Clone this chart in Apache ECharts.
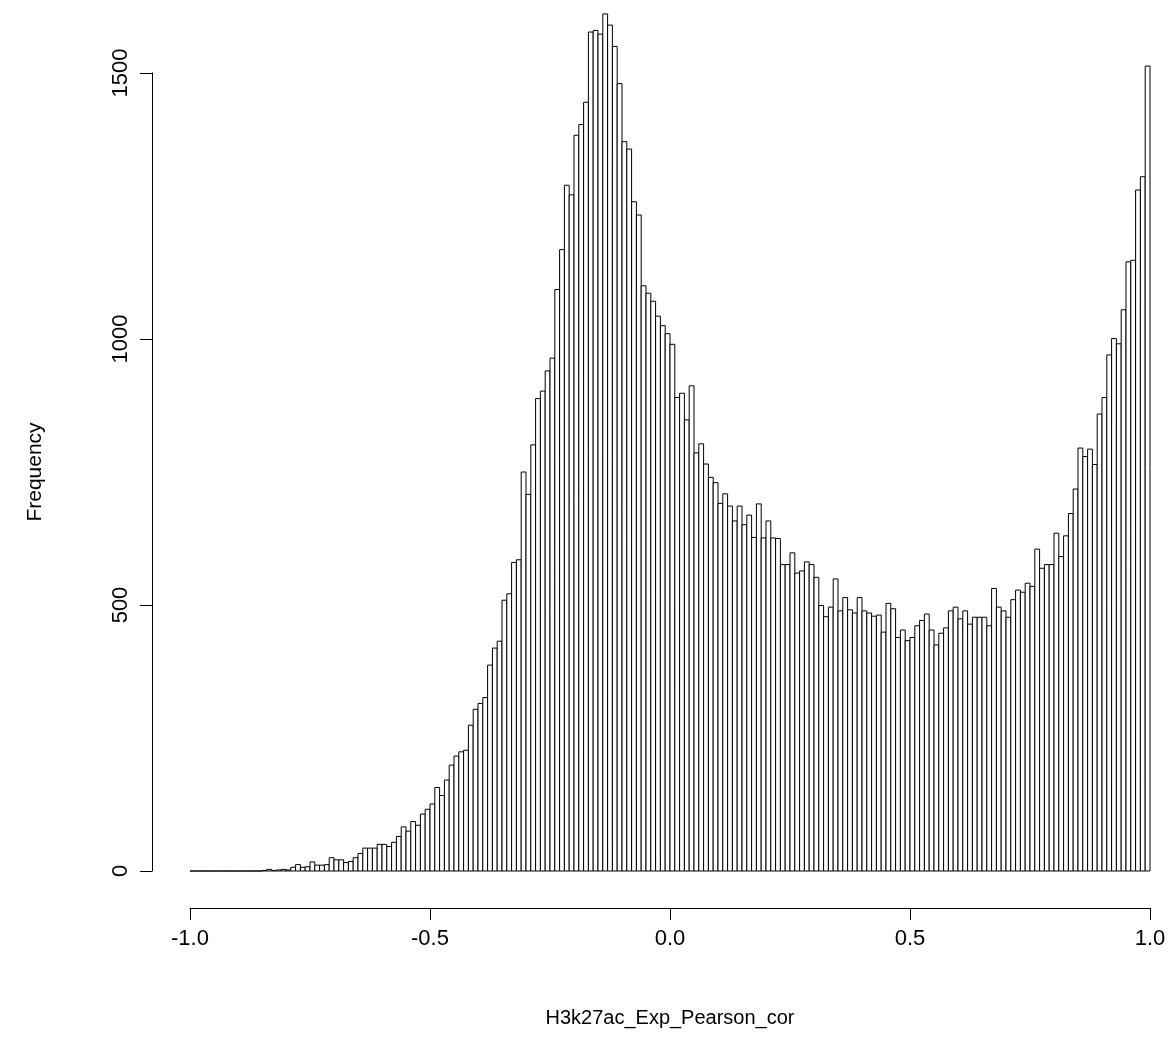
<!DOCTYPE html>
<html>
<head>
<meta charset="utf-8">
<script src="https://cdn.jsdelivr.net/npm/echarts@6/dist/echarts.min.js"></script>
<style>
html,body{margin:0;padding:0;background:#fff;}
#chart{width:1176px;height:1059px;}
</style>
</head>
<body>
<div id="chart"></div>
<script>
// Histogram of H3k27ac_Exp_Pearson_cor, bins of width 0.01 from -1 to 1
const binStart = -1.0;
const binWidth = 0.01;
const counts = [
  0,0,0,0,0,0,0,0,0,0,
  0,0,0,0,0,1,3,1,2,3,
  2,7,12,7,8,17,11,11,12,25,
  21,21,16,18,25,33,43,43,43,50,
  50,46,54,65,83,75,93,86,107,116,
  126,157,142,171,199,216,224,227,274,304,
  315,326,387,419,432,509,521,580,585,750,
  708,801,888,902,940,964,1093,1168,1289,1271,
  1383,1403,1445,1577,1580,1573,1611,1590,1550,1480,
  1371,1357,1258,1233,1100,1086,1071,1043,1025,1010,
  990,890,898,848,912,786,803,765,740,730,
  691,709,686,658,686,651,669,627,690,626,
  658,626,625,576,576,598,560,564,581,576,
  552,499,478,496,549,489,514,491,485,514,
  489,485,479,481,449,503,493,439,453,433,
  439,461,471,483,453,425,447,457,489,496,
  474,489,464,477,477,477,461,531,496,489,
  477,510,528,524,541,535,605,569,576,576,
  635,591,630,672,718,795,779,793,764,859,
  890,970,1001,991,1055,1145,1148,1280,1305,1513
];
const xTicks = [-1.0, -0.5, 0.0, 0.5, 1.0];
const yTicks = [0, 500, 1000, 1500];
const xTitle = 'H3k27ac_Exp_Pearson_cor';
const yTitle = 'Frequency';

const histData = counts.map((c, i) => {
  const x0 = +(binStart + i * binWidth).toFixed(2);
  const x1 = +(binStart + (i + 1) * binWidth).toFixed(2);
  return [x0, x1, c];
});

const FONT = 'Liberation Sans';
const chart = echarts.init(document.getElementById('chart'), null, {renderer: 'canvas'});
chart.setOption({
  animation: false,
  backgroundColor: '#ffffff',
  grid: {left: 190, right: 26, top: 73, bottom: 188, containLabel: false},
  xAxis: {
    type: 'value',
    min: xTicks[0], max: xTicks[xTicks.length - 1], interval: 0.5,
    offset: 37,
    name: xTitle, nameLocation: 'middle', nameGap: 100,
    nameTextStyle: {fontFamily: FONT, fontSize: 20, color: '#000'},
    axisLine: {show: true, onZero: false, lineStyle: {color: '#000', width: 1}},
    axisTick: {show: true, length: 12, lineStyle: {color: '#000', width: 1}},
    axisLabel: {fontFamily: FONT, fontSize: 22, color: '#000', margin: 20,
      formatter: v => v.toFixed(1)},
    splitLine: {show: false}
  },
  yAxis: {
    type: 'value',
    min: yTicks[0], max: yTicks[yTicks.length - 1], interval: 500,
    offset: 38,
    name: yTitle, nameLocation: 'middle', nameGap: 106, nameRotate: 90,
    nameTextStyle: {fontFamily: FONT, fontSize: 21, color: '#000'},
    axisLine: {show: true, onZero: false, lineStyle: {color: '#000', width: 1}},
    axisTick: {show: true, length: 12, lineStyle: {color: '#000', width: 1}},
    axisLabel: {fontFamily: FONT, fontSize: 22, color: '#000', margin: 20, rotate: 90,
      formatter: v => String(v)},
    splitLine: {show: false}
  },
  series: [{
    type: 'custom',
    clip: false,
    data: histData,
    encode: {x: [0, 1], y: 2},
    renderItem: function (params, api) {
      const p0 = api.coord([api.value(0), api.value(2)]);
      const p1 = api.coord([api.value(1), 0]);
      return {
        type: 'rect',
        shape: {x: p0[0], y: p0[1], width: p1[0] - p0[0], height: p1[1] - p0[1]},
        style: {fill: '#ffffff', stroke: '#000000', lineWidth: 1}
      };
    }
  }]
});
</script>
</body>
</html>
